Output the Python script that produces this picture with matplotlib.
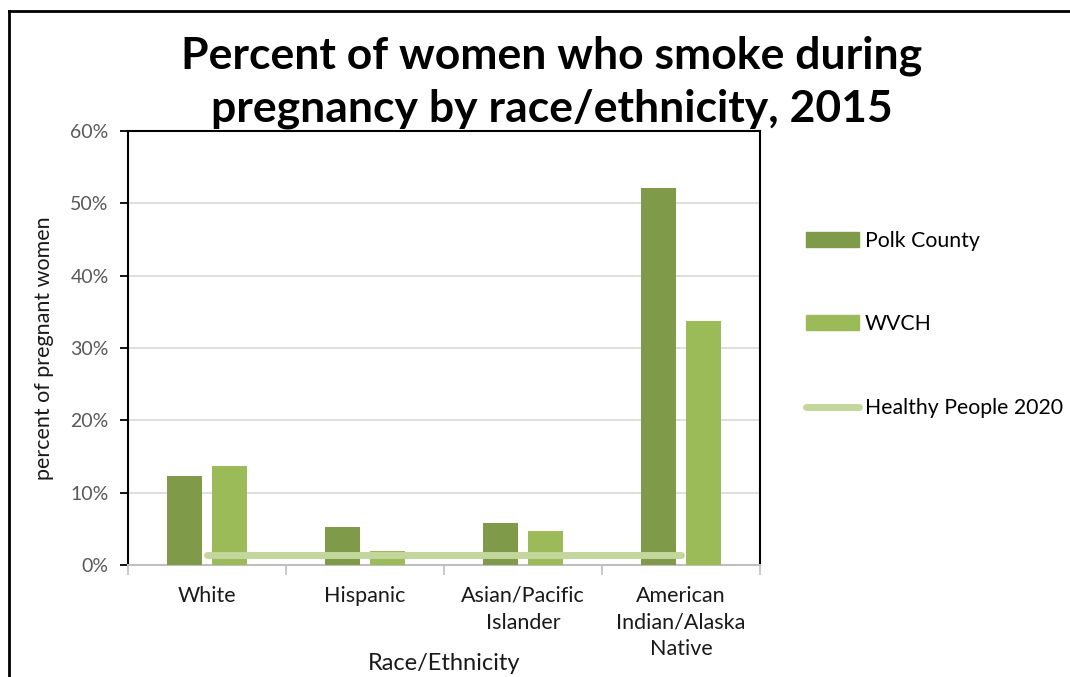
import matplotlib
matplotlib.use("Agg")
import matplotlib.pyplot as plt
import numpy as np
from matplotlib.lines import Line2D
from matplotlib.patches import Patch

categories = ["White", "Hispanic", "Asian/Pacific\nIslander", "American\nIndian/Alaska\nNative"]
polk_county = [12.3, 5.3, 5.8, 52.1]
wvch = [13.7, 1.9, 4.7, 33.8]
healthy_people_2020 = [1.4, 1.4, 1.4, 1.4]
y_ticks = [0, 10, 20, 30, 40, 50, 60]
y_tick_labels = ["0%", "10%", "20%", "30%", "40%", "50%", "60%"]

C_POLK = "#7F9A48"
C_WVCH = "#9BBB59"
C_HP = "#C3D69B"
FONT = "Lato"
plt.rcParams['font.family'] = [FONT, 'DejaVu Sans']

fig = plt.figure(figsize=(10.70, 6.77), dpi=100)
ax = fig.add_axes([128/1070, 1-565/677, (760-128)/1070, (565-131)/677])

x = np.arange(len(categories))
bw = 0.222
off = 0.143
ax.bar(x - off, polk_county, bw, color=C_POLK, zorder=3)
ax.bar(x + off, wvch, bw, color=C_WVCH, zorder=3)
ax.plot(x, healthy_people_2020, color=C_HP, lw=5, solid_capstyle='round', zorder=4)

ax.set_xlim(-0.5, len(categories) - 0.5)
ax.set_ylim(0, 60)
ax.set_yticks(y_ticks)
ax.set_yticklabels(y_tick_labels, color="#595959", fontsize=14)
ax.yaxis.grid(True, color="#D9D9D9", lw=1.2, zorder=0)
ax.set_axisbelow(True)
ax.tick_params(axis='y', direction='out', length=6, width=1.3, color='black', pad=8)

ax.set_xticks(np.arange(-0.5, len(categories), 1.0))
ax.set_xticklabels([])
ax.set_xticks(x, minor=True)
ax.set_xticklabels(categories, minor=True, fontsize=15.5, color="#1a1a1a", linespacing=1.42, va='top')
ax.tick_params(axis='x', which='major', direction='out', length=7, width=1.2, color='#BFBFBF')
ax.tick_params(axis='x', which='minor', length=0, pad=15)

for s in ['left', 'top', 'right']:
    ax.spines[s].set_color('black')
    ax.spines[s].set_linewidth(1.5)
ax.spines['bottom'].set_color('#BFBFBF')
ax.spines['bottom'].set_linewidth(1.5)

ax.set_ylabel("percent of pregnant women", fontsize=15.5, color="#1a1a1a", labelpad=12)
fig.text(444/1070, 1-663/677, "Race/Ethnicity", ha='center', va='center', fontsize=17, color="#1a1a1a")

fig.text(552/1070, 1-82/677, "Percent of women who smoke during\npregnancy by race/ethnicity, 2015",
         ha='center', va='center', fontsize=32, fontweight='bold', color='black', linespacing=1.38)

handles = [Patch(color=C_POLK), Patch(color=C_WVCH),
           Line2D([0], [0], color=C_HP, lw=5, solid_capstyle='round')]
labels = ["Polk County", "WVCH", "Healthy People 2020"]
leg = fig.legend(handles, labels, loc='upper left', bbox_to_anchor=(797/1070, 1-222/677),
                 frameon=False, fontsize=15.3, handlelength=2.5, handleheight=0.7,
                 handletextpad=0.3, labelspacing=3.0, borderaxespad=0, borderpad=0.4)

# outer border
fig.add_artist(Line2D([9/1070, 9/1070], [0, 1-11/677], color='black', lw=2, transform=fig.transFigure))
fig.add_artist(Line2D([9/1070, 1], [1-11/677, 1-11/677], color='black', lw=2, transform=fig.transFigure))

fig.savefig("out.png", dpi=100)
